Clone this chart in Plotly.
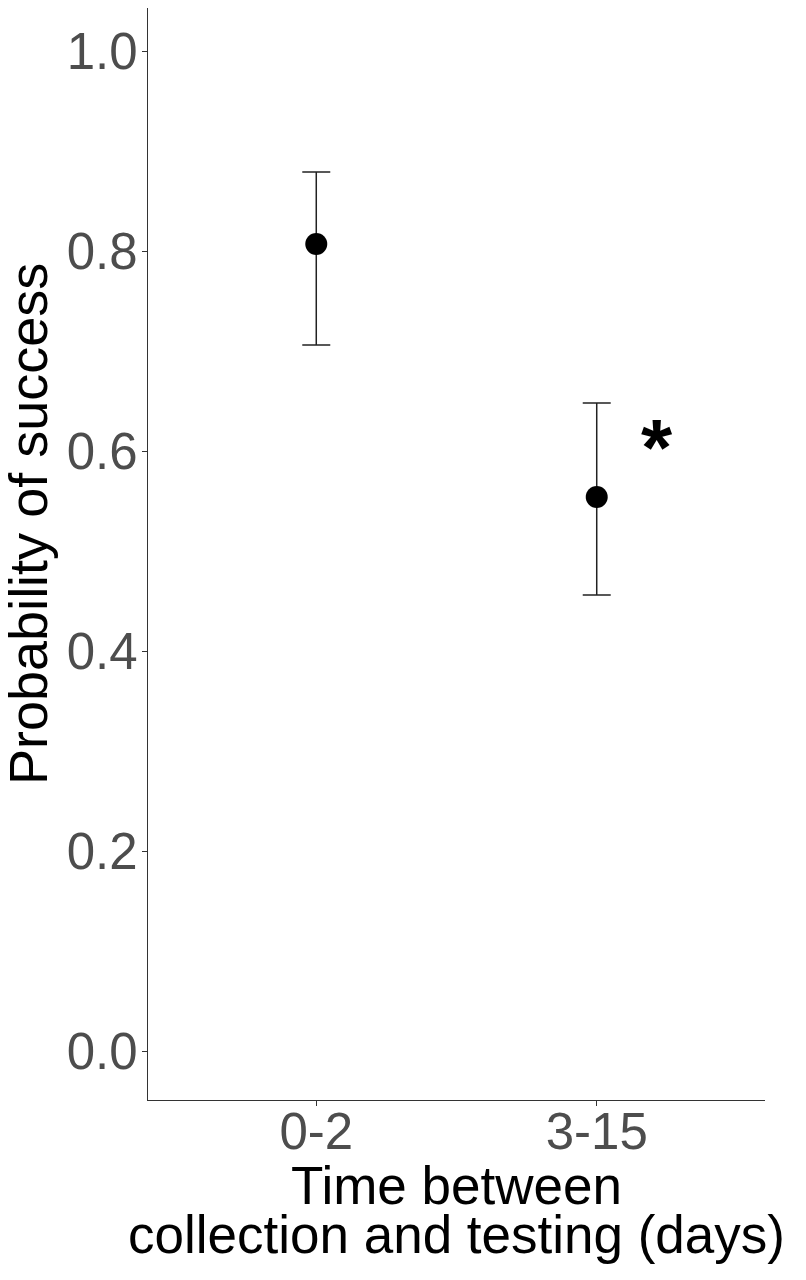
"""
Probabilidade de sucesso por tempo entre coleta e teste.
"""

import plotly.graph_objects as go

# dados
grupos = ["0-2", "3-15"]
posicoes = [1, 2]
probabilidade = [0.807, 0.554]
limite_inferior = [0.706, 0.456]
limite_superior = [0.879, 0.648]

y_ticks = [0.0, 0.2, 0.4, 0.6, 0.8, 1.0]
y_tick_labels = ["0.0", "0.2", "0.4", "0.6", "0.8", "1.0"]

# marca de significância
asterisco_x = 2.215
asterisco_y = 0.613

FONTE = "Liberation Sans, Arial, Helvetica, sans-serif"

erro_mais = [s - p for s, p in zip(limite_superior, probabilidade)]
erro_menos = [p - i for p, i in zip(probabilidade, limite_inferior)]

fig = go.Figure()

fig.add_trace(go.Scatter(
    x=posicoes,
    y=probabilidade,
    mode="markers",
    marker=dict(size=22, color="black"),
    error_y=dict(type="data", symmetric=False,
                 array=erro_mais, arrayminus=erro_menos,
                 color="#222222", thickness=1.5, width=14),
    showlegend=False,
    hoverinfo="skip",
))

# asterisco
fig.add_annotation(x=asterisco_x, y=asterisco_y, xref="x", yref="y",
                   text="<b>*</b>", showarrow=False,
                   xanchor="center", yanchor="middle", yshift=-9,
                   font=dict(family=FONTE, size=80, color="black"))

# título eixo y
fig.add_annotation(x=0, y=0.527, xref="paper", yref="y",
                   text="Probability of success", textangle=-90,
                   showarrow=False, xanchor="center", yanchor="middle",
                   xshift=-120,
                   font=dict(family=FONTE, size=54, color="black"))

# título eixo x (duas linhas)
fig.add_annotation(x=0.5, y=0, xref="paper", yref="paper",
                   text="Time between", showarrow=False,
                   xanchor="center", yanchor="middle", yshift=-85,
                   font=dict(family=FONTE, size=53, color="black"))
fig.add_annotation(x=0.5, y=0, xref="paper", yref="paper",
                   text="collection and testing (days)", showarrow=False,
                   xanchor="center", yanchor="middle", yshift=-134,
                   font=dict(family=FONTE, size=53, color="black"))

fig.update_layout(
    width=806,
    height=1280,
    margin=dict(l=140, r=49, t=0, b=188),
    plot_bgcolor="white",
    paper_bgcolor="white",
    font=dict(family=FONTE),
)

fig.update_xaxes(
    range=[0.4, 2.6],
    tickvals=posicoes,
    ticktext=grupos,
    showgrid=False,
    zeroline=False,
    showline=True,
    linecolor="#333333",
    linewidth=1.3,
    ticks="outside",
    ticklen=5,
    tickcolor="#333333",
    ticklabelstandoff=-18,
    tickfont=dict(family=FONTE, size=51, color="#4D4D4D"),
)

fig.update_yaxes(
    range=[-0.049, 1.043],
    tickvals=y_ticks,
    ticktext=y_tick_labels,
    showgrid=False,
    zeroline=False,
    showline=True,
    linecolor="#333333",
    linewidth=1.3,
    ticks="outside",
    ticklen=5,
    tickcolor="#333333",
    ticklabelstandoff=-6,
    tickfont=dict(family=FONTE, size=51, color="#4D4D4D"),
)

fig.write_html("out.html")
